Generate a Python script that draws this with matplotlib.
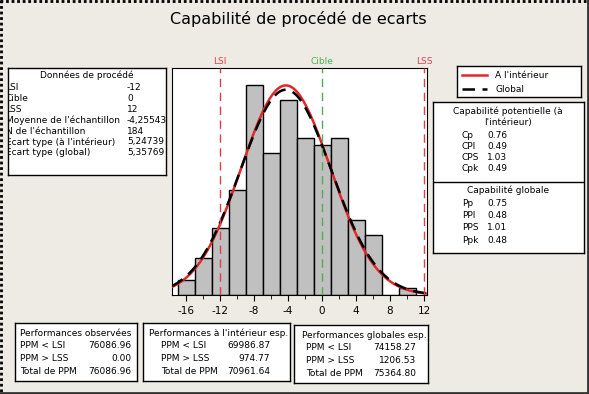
import numpy as np
import matplotlib
matplotlib.use("Agg")
import matplotlib.pyplot as plt

plt.rcParams["axes.unicode_minus"] = False

# Données du graphique
bin_centers = [-16, -14, -12, -10, -8, -6, -4, -2, 0, 2, 4, 6, 8, 10]
counts = [2, 5, 9, 14, 28, 19, 26, 21, 20, 21, 10, 8, 0, 1]
bin_width = 2
lsi, cible, lss = -12, 0, 12
moyenne = -4.25543
n_ech = 184
sd_interieur = 5.24739
sd_global = 5.35769
x_ticks = [-16, -12, -8, -4, 0, 4, 8, 12]

donnees_labels = ["LSI", "Cible", "LSS", "Moyenne de l'échantillon", "N de l'échantillon",
                  "Ecart type (à l'intérieur)", "Ecart type (global)"]
donnees_values = ["-12", "0", "12", "-4,25543", "184", "5,24739", "5,35769"]

pot_labels = ["Cp", "CPI", "CPS", "Cpk"]
pot_values = ["0.76", "0.49", "1.03", "0.49"]
glob_labels = ["Pp", "PPI", "PPS", "Ppk"]
glob_values = ["0.75", "0.48", "1.01", "0.48"]

perf_labels = ["PPM < LSI", "PPM > LSS", "Total de PPM"]
perf_obs = ["76086.96", "0.00", "76086.96"]
perf_int = ["69986.87", "974.77", "70961.64"]
perf_glob = ["74158.27", "1206.53", "75364.80"]

W, H = 589, 394
BG = "#EEEBE4"
FS = 6.5

fig = plt.figure(figsize=(W / 100, H / 100), dpi=100)
fig.patch.set_facecolor(BG)


def boite(x0, y0, x1, y1):
    # axes en coordonnées pixels (y vers le bas)
    a = fig.add_axes([x0 / W, 1 - y1 / H, (x1 - x0) / W, (y1 - y0) / H])
    a.set_xlim(x0, x1)
    a.set_ylim(y1, y0)
    a.set_xticks([])
    a.set_yticks([])
    a.set_facecolor("white")
    for s in a.spines.values():
        s.set_linewidth(1)
        s.set_color("black")
    return a


# Titre
fig.text(298 / W, 1 - 19 / H, "Capabilité de procédé de ecarts", ha="center", va="center",
         fontsize=11.5)

# Histogramme
ax = fig.add_axes([172 / W, 1 - 295 / H, 255 / W, 227 / H])
ax.bar(bin_centers, counts, width=bin_width, color="#C0C0C0", edgecolor="black", linewidth=1)
xs = np.linspace(-17.65, 12.35, 400)
fit_int = n_ech * bin_width * np.exp(-0.5 * ((xs - moyenne) / sd_interieur) ** 2) / (sd_interieur * np.sqrt(2 * np.pi))
fit_glob = n_ech * bin_width * np.exp(-0.5 * ((xs - moyenne) / sd_global) ** 2) / (sd_global * np.sqrt(2 * np.pi))
ax.plot(xs, fit_int, color="#E02828", linewidth=1.8, zorder=3)
ax.plot(xs, fit_glob, color="black", linewidth=1.8, linestyle=(0, (5, 3)), zorder=4)
for xv, col, lab in [(lsi, "#D8404C", "LSI"), (cible, "#4CAF50", "Cible"), (lss, "#D8404C", "LSS")]:
    ax.axvline(xv, color=col, linestyle=(0, (6, 4)), linewidth=1, zorder=5)
    ax.text(xv, 1.01, lab, color=col, fontsize=FS, ha="center", va="bottom",
            transform=ax.get_xaxis_transform())
ax.set_xlim(-17.65, 12.35)
ax.set_ylim(0, 30.3)
ax.set_yticks([])
ax.set_xticks(x_ticks)
ax.set_xticks(np.arange(-16, 13, 2), minor=True)
ax.tick_params(axis="x", labelsize=7.5, length=4, direction="out", pad=4)
ax.tick_params(axis="x", which="minor", length=3)

# Données de procédé
b = boite(8, 68, 166, 175)
b.text(87, 75, "Données de procédé", ha="center", va="center", fontsize=FS)
for i, (lab, val) in enumerate(zip(donnees_labels, donnees_values)):
    y = 88 + i * 10.8
    b.text(5.5, y, lab, ha="left", va="center", fontsize=FS, clip_on=True)
    b.text(127, y, val, ha="left", va="center", fontsize=FS)

# Légende
lg = boite(457, 66, 581, 97)
lg.plot([462, 487], [75, 75], color="#E02828", linewidth=1.8)
lg.plot([462, 487], [89, 89], color="black", linewidth=1.8, linestyle=(0, (5, 3)))
lg.text(495, 75, "A l'intérieur", ha="left", va="center", fontsize=FS)
lg.text(495, 89, "Global", ha="left", va="center", fontsize=FS)

# Capabilité
cb = boite(433, 102, 584, 253)
cb.axhline(182, color="black", linewidth=1)
cb.text(508, 111, "Capabilité potentielle (à", ha="center", va="center", fontsize=FS)
cb.text(508, 123, "l'intérieur)", ha="center", va="center", fontsize=FS)
for i, (lab, val) in enumerate(zip(pot_labels, pot_values)):
    y = 135 + i * 11.3
    cb.text(462, y, lab, ha="left", va="center", fontsize=FS)
    cb.text(487, y, val, ha="left", va="center", fontsize=FS)
cb.text(508, 190, "Capabilité globale", ha="center", va="center", fontsize=FS)
for i, (lab, val) in enumerate(zip(glob_labels, glob_values)):
    y = 203 + i * 12.5
    cb.text(462, y, lab, ha="left", va="center", fontsize=FS)
    cb.text(487, y, val, ha="left", va="center", fontsize=FS)

# Performances
perfs = [
    ((15, 323, 137, 381), "Performances observées", perf_obs, 20, 20, 131),
    ((143, 323, 290, 381), "Performances à l'intérieur esp.", perf_int, 149, 161, 270),
    ((294, 325, 428, 383), "Performances globales esp.", perf_glob, 302, 306, 416),
]
for (x0, y0, x1, y1), titre, vals, xt, xl, xv in perfs:
    p = boite(x0, y0, x1, y1)
    p.text(xt, y0 + 10, titre, ha="left", va="center", fontsize=FS)
    for i, (lab, val) in enumerate(zip(perf_labels, vals)):
        y = y0 + 23 + i * 12.5
        p.text(xl, y, lab, ha="left", va="center", fontsize=FS)
        p.text(xv, y, val, ha="right", va="center", fontsize=FS)

# Cadre de la fenêtre
fr = fig.add_axes([0, 0, 1, 1], zorder=10)
fr.set_xlim(0, W)
fr.set_ylim(H, 0)
fr.axis("off")
fr.patch.set_alpha(0)
fr.plot([0, W], [1, 1], color="black", linewidth=2, linestyle=(0, (1, 1)))
fr.plot([1, 1], [0, H], color="black", linewidth=2, linestyle=(0, (1, 1)))
fr.plot([0, W], [392.5, 392.5], color="#333333", linewidth=2)
fr.plot([587.5, 587.5], [0, H], color="#333333", linewidth=2)

fig.savefig("out.png", dpi=100, facecolor=BG)
